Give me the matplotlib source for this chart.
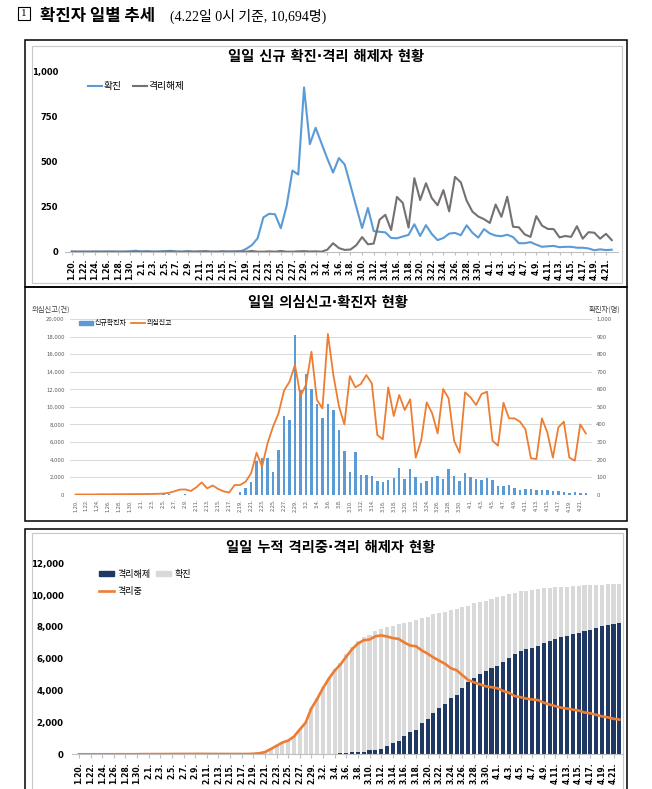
import numpy as np
import matplotlib
matplotlib.use("Agg")
import matplotlib.pyplot as plt
from matplotlib.patches import Rectangle, Patch
from matplotlib.lines import Line2D

plt.rcParams['font.family'] = ['Noto Sans CJK KR', 'DejaVu Sans']

W, H = 652, 789

# categories: 1.20. ~ 4.22. (0시 기준 일자)
dates = ([f'1.{d}.' for d in range(20, 32)] + [f'2.{d}.' for d in range(1, 30)]
         + [f'3.{d}.' for d in range(1, 32)] + [f'4.{d}.' for d in range(1, 23)])

# 일일 신규 확진
new_cases = [1, 0, 0, 0, 1, 0, 1, 1, 0, 0, 2, 5,
             1, 3, 0, 1, 2, 5, 1, 0, 3, 0, 1, 0, 0, 0, 0, 1, 1, 1,
             15, 36, 74, 190, 210, 207, 130, 253, 449, 427, 909,
             595, 686, 600, 516, 438, 518, 483, 367, 248, 131,
             242, 114, 110, 107, 76, 74, 84, 93, 152, 87,
             147, 98, 64, 76, 100, 104, 91, 146, 105, 78, 125,
             101, 89, 86, 94, 81, 47, 47, 53, 39, 27,
             30, 32, 25, 27, 27, 22, 22, 18, 8, 13, 9, 11]

# 일일 격리해제
released_daily = [0] * 12 + [0, 0, 0, 0,
                  1, 1, 0, 0, 1, 0, 1, 3, 0, 0, 2, 0, 1, 2, 0, 4, 0, 0, 2, 0, 4, 0, 0, 2, 3,
                  1, 2, 0, 11, 47, 20, 10, 12, 36, 81,
                  41, 45, 177, 204, 120, 303, 270, 133, 407, 286,
                  379, 297, 257, 341, 223, 414, 384, 283, 222, 195, 180,
                  159, 261, 193, 304, 138, 135, 96, 82, 197, 144,
                  126, 125, 79, 87, 82, 141, 72, 108, 105, 72, 99, 64]

# 일일 의심신고 (건)
suspect_reports = [20, 30, 25, 30, 40, 50, 45, 60, 55, 60, 65, 70,
                   75, 80, 90, 100, 130, 210, 380, 580, 600, 420,
                   830, 1400, 720, 1050, 650, 380, 250, 1100, 1100, 1480,
                   2430, 4780, 3190, 5850, 7740, 9260, 11840, 12860, 14760,
                   11230, 12480, 16280, 10780, 9830, 18290, 13600, 10100, 8000, 13500,
                   12220, 12600, 13620, 12680, 6800, 6300, 12220, 8960, 11350, 9640,
                   10860, 4220, 6150, 10510, 9260, 6980, 12030, 10970, 6150, 4780, 11650,
                   11080, 10210, 11460, 11730, 6150, 5580, 10470, 8690, 8690, 8310,
                   7440, 4140, 4060, 8690, 7060, 4220, 7670, 8310, 4220, 3870, 8000, 6980]

# 누적 확진
cum_confirmed = [1, 1, 1, 1, 2, 2, 3, 4, 4, 4, 6, 11,
                 12, 15, 15, 16, 18, 23, 24, 24, 27, 27, 28, 28, 28, 28, 28, 29, 30, 31,
                 46, 82, 156, 346, 556, 763, 893, 1146, 1595, 2022, 2931,
                 3526, 4212, 4812, 5328, 5766, 6284, 6767, 7134, 7382, 7513,
                 7755, 7869, 7979, 8086, 8162, 8236, 8320, 8413, 8565, 8652,
                 8799, 8897, 8961, 9037, 9137, 9241, 9332, 9478, 9583, 9661, 9786,
                 9887, 9976, 10062, 10156, 10237, 10284, 10331, 10384, 10423, 10450,
                 10480, 10512, 10537, 10564, 10591, 10613, 10635, 10653, 10661, 10674,
                 10683, 10694]

# 누적 격리해제
cum_released = [0] * 12 + [0, 0, 0, 0, 1, 2, 2, 2, 3, 3, 4, 7, 7, 7, 9, 9, 10, 12,
                12, 16, 16, 16, 18, 18, 22, 22, 22, 24, 27,
                28, 30, 30, 41, 88, 108, 118, 130, 166, 247,
                288, 333, 510, 714, 834, 1137, 1407, 1540, 1947, 2233,
                2612, 2909, 3166, 3507, 3730, 4144, 4528, 4811, 5033, 5228, 5408,
                5567, 5828, 6021, 6325, 6463, 6598, 6694, 6776, 6973, 7117,
                7243, 7368, 7447, 7534, 7616, 7757, 7829, 7937, 8042, 8114, 8213, 8277]

# 격리중
isolating = [1, 1, 1, 1, 2, 2, 3, 4, 4, 4, 6, 11,
             12, 15, 15, 16, 17, 21, 22, 22, 24, 24, 24, 21, 21, 21, 19, 20, 20, 19,
             34, 65, 139, 328, 533, 738, 863, 1113, 1561, 1985, 2888,
             3481, 4160, 4754, 5255, 5643, 6134, 6605, 6954, 7165, 7212,
             7407, 7470, 7402, 7300, 7253, 7024, 6832, 6789, 6527, 6325,
             6085, 5884, 5684, 5410, 5281, 4966, 4665, 4523, 4398, 4275, 4216,
             4155, 3979, 3867, 3654, 3591, 3500, 3445, 3408, 3246, 3125,
             3026, 2930, 2873, 2808, 2750, 2627, 2576, 2484, 2385, 2324, 2233, 2179]

BLUE = '#5b9bd5'
GRAY_LINE = '#767171'
ORANGE = '#ed7d31'
NAVY = '#1f3864'
LIGHT = '#d9d9d9'
TITLE_FONT = ['DejaVu Sans', 'Noto Sans CJK KR']  # narrow middle dot, Hangul from Noto

x = np.arange(len(dates))
tick_pos = x[::2]
tick_lab = dates[::2]

fig = plt.figure(figsize=(W / 100, H / 100), dpi=100)


def px_axes(x0, y0, x1, y1):
    return fig.add_axes([x0 / W, 1 - y1 / H, (x1 - x0) / W, (y1 - y0) / H])


def px_rect(x0, y0, x1, y1, color, lw):
    fig.add_artist(Rectangle((x0 / W, 1 - y1 / H), (x1 - x0) / W, (y1 - y0) / H,
                             transform=fig.transFigure, fill=False, ec=color, lw=lw))


def fx(px):
    return px / W


def fy(py):
    return 1 - py / H


def set_xlim(ax, x0, x1, first, step):
    ax.set_xlim((x0 - first) / step, (x1 - first) / step)


def clean(ax, spine_color='#bfbfbf'):
    for s in ['top', 'right', 'left']:
        ax.spines[s].set_visible(False)
    ax.spines['bottom'].set_color(spine_color)
    ax.spines['bottom'].set_linewidth(0.8)


# ---- frames
px_rect(24.5, 40.5, 626.5, 287, 'black', 1.1)
px_rect(31.5, 46, 622, 283, '#c8c8c8', 0.8)
px_rect(24.5, 287, 626.5, 521, 'black', 1.1)
px_rect(24.5, 529, 626.5, 790, 'black', 1.1)
px_rect(31.5, 533, 622.5, 790, '#c8c8c8', 0.8)

# ---- main title
px_rect(18, 7, 30, 20, 'black', 0.8)
fig.text(fx(24), fy(13.5), '1', fontsize=8, family='Liberation Serif', ha='center', va='center')
fig.text(fx(40), fy(20.5), '확진자 일별 추세', fontsize=12, weight='bold', va='baseline')
fig.text(fx(170), fy(20.5), '(4.22일 0시 기준, 10,694명)', fontsize=10,
         family=['Liberation Serif', 'Noto Sans CJK KR'], va='baseline')

# ---- panel 1: 일일 신규 확진·격리 해제자 현황
ax1 = px_axes(65, 71, 618, 251.7)
ax1.plot(x, new_cases, color=BLUE, lw=1.5, label='확진')
ax1.plot(x, released_daily, color=GRAY_LINE, lw=1.5, label='격리해제')
set_xlim(ax1, 65, 618, 71.8, 5.806)
ax1.set_ylim(0, 1000)
clean(ax1)
ax1.set_yticks([0, 250, 500, 750, 1000])
ax1.set_yticklabels(['0', '250', '500', '750', '1,000'], fontsize=6, weight='bold',
                    family='DejaVu Sans')
ax1.tick_params(axis='y', length=0, pad=5)
ax1.set_xticks(tick_pos)
ax1.set_xticklabels(tick_lab, rotation=90, fontsize=5.5, weight='bold', family='DejaVu Sans')
ax1.tick_params(axis='x', length=2, color='#bfbfbf', pad=3)
fig.text(fx(326), fy(57), '일일 신규 확진·격리 해제자 현황', fontsize=10.3, weight='bold',
         family=TITLE_FONT, ha='center', va='center')
ax1.legend(loc='center left', bbox_to_anchor=(fx(88), fy(86)), bbox_transform=fig.transFigure,
           ncol=2, frameon=False, fontsize=7, handlelength=1.45, handletextpad=0.15,
           columnspacing=1.2, borderpad=0, borderaxespad=0)

# ---- panel 2: 일일 의심신고·확진자 현황
ax2 = px_axes(70, 319, 592, 494.7)
ax2r = ax2.twinx()
ax2r.bar(x, new_cases, width=0.45, color=BLUE, zorder=2)
ax2.plot(x, suspect_reports, color=ORANGE, lw=1.3, zorder=3)
ax2.set_zorder(ax2r.get_zorder() + 1)
ax2.patch.set_visible(False)
set_xlim(ax2, 70, 592, 75.5, 5.487)
ax2.set_ylim(0, 20000)
ax2r.set_ylim(0, 1000)
for a in (ax2, ax2r):
    for s in a.spines.values():
        s.set_visible(False)
yl = np.arange(0, 20001, 2000)
for v in yl:
    ax2r.axhline(v / 20, color=LIGHT, lw=0.7, zorder=0)
ax2.set_yticks(yl)
ax2.set_yticklabels([f'{v:,}' for v in yl], fontsize=3.8, color='#595959', family='DejaVu Sans')
ax2.tick_params(axis='y', length=0, pad=4)
yr = np.arange(0, 1001, 100)
ax2r.set_yticks(yr)
ax2r.set_yticklabels([f'{v:,}' for v in yr], fontsize=3.8, color='#595959', family='DejaVu Sans')
ax2r.tick_params(axis='y', length=0, pad=3)
ax2.set_xticks(tick_pos)
ax2.set_xticklabels(tick_lab, rotation=90, fontsize=3.6, color='#595959', family='DejaVu Sans')
ax2.tick_params(axis='x', length=0, pad=3)
fig.text(fx(328), fy(302.5), '일일 의심신고·확진자 현황', fontsize=10.3, weight='bold',
         family=TITLE_FONT, ha='center', va='center')
fig.text(fx(32), fy(310), '의심신고(건)', fontsize=5.3, color='#404040', va='center')
fig.text(fx(620), fy(310), '확진자(명)', fontsize=5.3, color='#404040', va='center', ha='right')
h2 = [Patch(color=BLUE), Line2D([], [], color=ORANGE, lw=1.3)]
ax2.legend(h2, ['신규확진자', '의심신고'], loc='center left', bbox_to_anchor=(fx(79), fy(323.5)),
           bbox_transform=fig.transFigure, ncol=2, frameon=False, fontsize=5,
           handlelength=2.0, handleheight=0.6, handletextpad=0.2, columnspacing=0.7,
           borderpad=0, borderaxespad=0)

# ---- panel 3: 일일 누적 격리중·격리 해제자 현황
ax3 = px_axes(72, 563.3, 622, 754.3)
rest = [c - r for c, r in zip(cum_confirmed, cum_released)]
ax3.bar(x, cum_released, width=0.7, color=NAVY, label='격리해제', zorder=2)
ax3.bar(x, rest, bottom=cum_released, width=0.7, color=LIGHT, label='확진', zorder=2)
ax3.plot(x, isolating, color=ORANGE, lw=1.9, label='격리중', zorder=3)
set_xlim(ax3, 72, 622, 79, 5.81)
ax3.set_ylim(0, 12000)
clean(ax3)
y3 = np.arange(0, 12001, 2000)
ax3.set_yticks(y3)
ax3.set_yticklabels([f'{v:,}' for v in y3], fontsize=6.2, weight='bold', family='DejaVu Sans')
ax3.tick_params(axis='y', length=0, pad=6)
ax3.set_xticks(tick_pos)
ax3.set_xticklabels(tick_lab, rotation=90, fontsize=5.5, weight='bold', family='DejaVu Sans')
ax3.tick_params(axis='x', length=3, color='#bfbfbf', pad=3)
fig.text(fx(331), fy(548), '일일 누적 격리중·격리 해제자 현황', fontsize=10.3, weight='bold',
         family=TITLE_FONT, ha='center', va='center')
h3 = [Patch(color=NAVY), Line2D([], [], color=ORANGE, lw=1.9), Patch(color=LIGHT)]
ax3.legend(h3, ['격리해제', '격리중', '확진'], loc='upper left', bbox_to_anchor=(fx(99), fy(570)),
           bbox_transform=fig.transFigure, ncol=2, frameon=False, fontsize=6.5,
           handlelength=1.7, handleheight=0.45, handletextpad=0.35, columnspacing=0.6,
           labelspacing=0.9, borderpad=0, borderaxespad=0)

fig.savefig('out.png', dpi=100)
